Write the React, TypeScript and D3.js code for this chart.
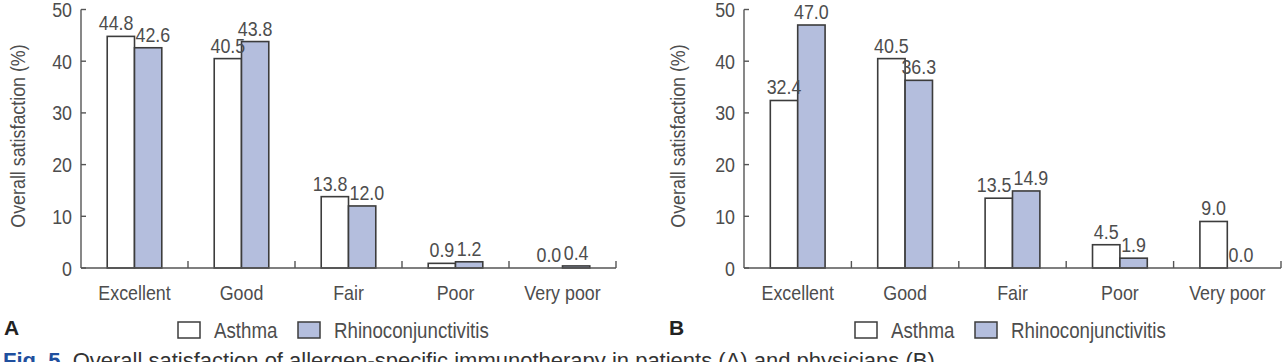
import React from "react";
import * as d3 from "d3";

// Overall satisfaction with allergen-specific immunotherapy (%)
const categories = ["Excellent", "Good", "Fair", "Poor", "Very poor"];
const seriesNames = ["Asthma", "Rhinoconjunctivitis"];
const patientsAsthma = [44.8, 40.5, 13.8, 0.9, 0.0];
const patientsRhino = [42.6, 43.8, 12.0, 1.2, 0.4];
const physiciansAsthma = [32.4, 40.5, 13.5, 4.5, 9.0];
const physiciansRhino = [47.0, 36.3, 14.9, 1.9, 0.0];
const yTicks = [0, 10, 20, 30, 40, 50];

const W = 1287;
const H = 362;
const SANS = "'Liberation Sans', Arial, Helvetica, sans-serif";
const TEXT = "#4d4d4d";
const AXIS = "#555";
const STROKE = "#3c3c3c";
const FILLS = ["#ffffff", "#b4bedd"];
const FS = 21;
const NARROW = 0.85; // horizontal squeeze giving a condensed face

const labelWidth = (s: string) => {
  let w = 0;
  for (const c of s) w += (c === "." ? 0.278 : 0.556) * FS * NARROW;
  return w;
};

type NTextProps = {
  x: number;
  y: number;
  anchor?: "start" | "middle" | "end";
  size?: number;
  rotate?: number;
  dy?: string;
  children: React.ReactNode;
};

// Condensed text: Liberation Sans squeezed horizontally
function NText({ x, y, anchor = "start", size = FS, rotate = 0, dy, children }: NTextProps) {
  return (
    <text
      transform={`translate(${x},${y}) rotate(${rotate}) scale(${NARROW},1)`}
      textAnchor={anchor}
      dy={dy}
      fontFamily={SANS}
      fontSize={size}
      fill={TEXT}
    >
      {children}
    </text>
  );
}

type PanelProps = {
  x0: number;
  x1: number;
  letter: string;
  letterX: number;
  legendX: number;
  titleX: number;
  series: number[][];
};

function Panel({ x0, x1, letter, letterX, legendX, titleX, series }: PanelProps) {
  const y = d3.scaleLinear().domain([0, 50]).range([268, 9.5]);
  const x = d3.scaleBand<string>().domain(categories).range([x0, x1]).paddingInner(0).paddingOuter(0);
  const bw = x.bandwidth();
  const xs = d3
    .scaleBand<string>()
    .domain(seriesNames)
    .range([bw * 0.245, bw * 0.755])
    .padding(0);

  // value labels, nudged apart horizontally where a pair would collide
  const labels: { key: string; x: number; y: number; text: string }[] = [];
  categories.forEach((c, i) => {
    const items = seriesNames.map((s, k) => {
      const v = series[k][i];
      const text = v.toFixed(1);
      return {
        cx: (x(c) as number) + (xs(s) as number) + xs.bandwidth() / 2,
        by: y(v) - 6,
        text,
        w: labelWidth(text),
      };
    });
    const [a, b] = items;
    if (Math.abs(a.by - b.by) < 16) {
      const overlap = (a.w + b.w) / 2 + 2 - (b.cx - a.cx);
      if (overlap > 0) {
        a.cx -= overlap / 2;
        b.cx += overlap / 2;
      }
    }
    items.forEach((it, k) =>
      labels.push({ key: `${c}-${k}`, x: it.cx, y: it.by, text: it.text })
    );
  });

  return (
    <g>
      {/* bars */}
      {categories.map((c, i) =>
        seriesNames.map((s, k) => {
          const v = series[k][i];
          return (
            <rect
              key={`${c}-${s}`}
              x={(x(c) as number) + (xs(s) as number)}
              y={y(v)}
              width={xs.bandwidth()}
              height={y(0) - y(v)}
              fill={FILLS[k]}
              stroke={STROKE}
              strokeWidth={1.6}
            />
          );
        })
      )}
      {/* y axis */}
      <line x1={x0} x2={x0} y1={y(50)} y2={y(0)} stroke={AXIS} strokeWidth={1.4} />
      {yTicks.map((t) => (
        <g key={t}>
          <line x1={x0} x2={x0 + 5} y1={y(t)} y2={y(t)} stroke={AXIS} strokeWidth={1.4} />
          <NText x={x0 - 9} y={y(t)} dy="0.36em" anchor="end">
            {t}
          </NText>
        </g>
      ))}
      {/* x axis */}
      <line x1={x0} x2={x1} y1={y(0)} y2={y(0)} stroke={AXIS} strokeWidth={1.4} />
      {categories.map((c) => (
        <g key={c}>
          <line
            x1={(x(c) as number) + bw}
            x2={(x(c) as number) + bw}
            y1={y(0)}
            y2={y(0) - 7}
            stroke={AXIS}
            strokeWidth={1.4}
          />
          <NText x={(x(c) as number) + bw / 2} y={300} anchor="middle">
            {c}
          </NText>
        </g>
      ))}
      {labels.map((l) => (
        <NText key={l.key} x={l.x} y={l.y} anchor="middle">
          {l.text}
        </NText>
      ))}
      {/* axis title */}
      <NText x={titleX} y={136} rotate={-90} anchor="middle" dy="0.35em">
        Overall satisfaction (%)
      </NText>
      {/* panel letter */}
      <text x={letterX} y={335} fontFamily={SANS} fontWeight="bold" fontSize={21} fill="#222">
        {letter}
      </text>
      {/* legend */}
      {seriesNames.map((s, k) => {
        const bx = legendX + k * 120;
        return (
          <g key={s}>
            <rect x={bx} y={322} width={22} height={16} fill={FILLS[k]} stroke={STROKE} strokeWidth={1.5} />
            <NText x={bx + 36} y={338} size={22}>
              {s}
            </NText>
          </g>
        );
      })}
    </g>
  );
}

export default function App() {
  return (
    <svg
      width={W}
      height={H}
      viewBox={`0 0 ${W} ${H}`}
      style={{ position: "absolute", left: 0, top: 0, display: "block", background: "#fff" }}
    >
      <rect width={W} height={H} fill="#fff" />
      <Panel
        x0={81}
        x1={616}
        letter="A"
        letterX={4}
        legendX={178}
        titleX={18}
        series={[patientsAsthma, patientsRhino]}
      />
      <Panel
        x0={744}
        x1={1281}
        letter="B"
        letterX={669}
        legendX={855}
        titleX={678}
        series={[physiciansAsthma, physiciansRhino]}
      />
      <text x={3} y={368} fontFamily={SANS} fontSize={22} fill="#333">
        <tspan fill="#1f4f9e" fontWeight="bold">Fig. 5.</tspan>
        <tspan> Overall satisfaction of allergen-specific immunotherapy in patients (A) and physicians (B).</tspan>
      </text>
    </svg>
  );
}
